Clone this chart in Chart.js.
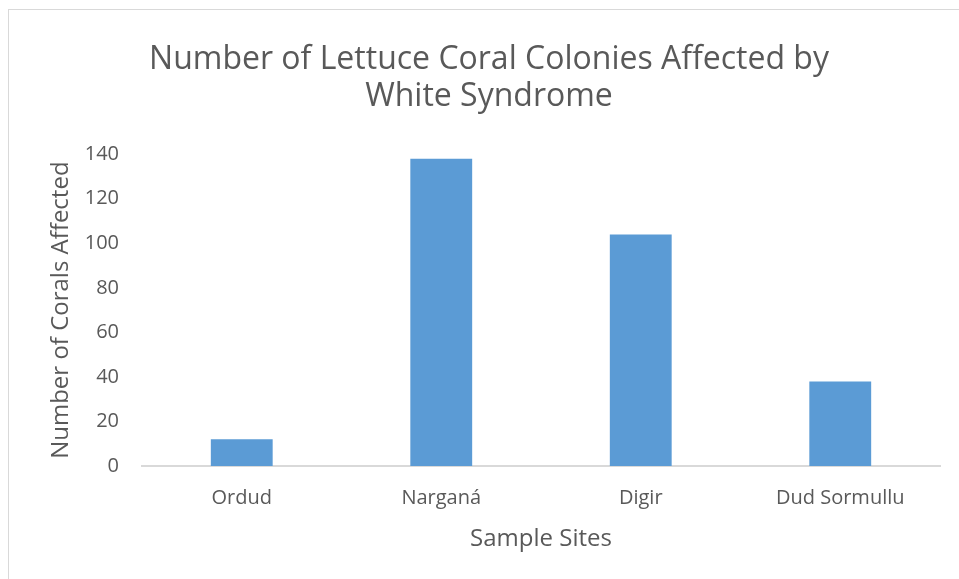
<!DOCTYPE html>
<html>
<head>
<meta charset="utf-8">
<script src="https://cdn.jsdelivr.net/npm/chart.js@4"></script>
<style>
  html, body { margin: 0; padding: 0; background: #fff; }
  .wrap { position: relative; width: 959px; height: 579px; overflow: hidden; }
  .frame { position: absolute; left: 8px; top: 9px; width: 1000px; height: 640px; border: 1px solid #d9d9d9; }
  canvas { position: absolute; left: 0; top: 0; }
</style>
</head>
<body>
<div class="wrap">
  <div class="frame"></div>
  <canvas id="bar-chart" width="959" height="579"></canvas>
</div>
<script>
const sites = ['Ordud', 'Narganá', 'Digir', 'Dud Sormullu'];
const coralsAffected = [12, 138, 104, 38];
const yTicks = [0, 20, 40, 60, 80, 100, 120, 140];

const textColor = '#595959';
const fontFamily = '"Open Sans", sans-serif';

const ctx = document.getElementById('bar-chart');

new Chart(ctx, {
    type: 'bar',
    data: {
        labels: sites,
        datasets: [{
            label: 'Number of Corals Affected',
            data: coralsAffected,
            backgroundColor: '#5b9bd5',
            borderWidth: 0,
            barPercentage: 0.31,
            categoryPercentage: 1
        }]
    },
    options: {
        responsive: false,
        animation: false,
        layout: {
            // left/right padding keeps the title centred where the reference has it
            padding: { left: 38, right: 19, top: 0, bottom: 0 }
        },
        plugins: {
            legend: { display: false },
            tooltip: { enabled: false },
            title: {
                display: true,
                text: ['Number of Lettuce Coral Colonies Affected by', 'White Syndrome'],
                color: textColor,
                font: { family: fontFamily, size: 32, weight: 'normal', lineHeight: 1.16 },
                padding: { top: 41, bottom: 39 }
            }
        },
        scales: {
            x: {
                grid: { display: false, drawTicks: false, tickLength: 0 },
                border: { display: true, color: '#d9d9d9', width: 2 },
                ticks: {
                    color: textColor,
                    font: { family: fontFamily, size: 20 },
                    padding: 20,
                    maxRotation: 0
                },
                title: {
                    display: true,
                    text: 'Sample Sites',
                    color: textColor,
                    font: { family: fontFamily, size: 24 },
                    padding: { top: 4, bottom: 25 }
                },
                afterFit: function(scale) { scale.height = 113; }
            },
            y: {
                min: 0,
                max: 140,
                grid: { display: false, drawTicks: false, tickLength: 0 },
                border: { display: false },
                afterBuildTicks: function(scale) {
                    scale.ticks = yTicks.map(v => ({ value: v }));
                },
                ticks: {
                    color: textColor,
                    font: { family: fontFamily, size: 20 },
                    padding: 23
                },
                title: {
                    display: true,
                    text: 'Number of Corals Affected',
                    color: textColor,
                    font: { family: fontFamily, size: 24 },
                    padding: { top: 9, bottom: 4 }
                },
                afterFit: function(scale) { scale.width = 104; }
            }
        }
    }
});
</script>
</body>
</html>
